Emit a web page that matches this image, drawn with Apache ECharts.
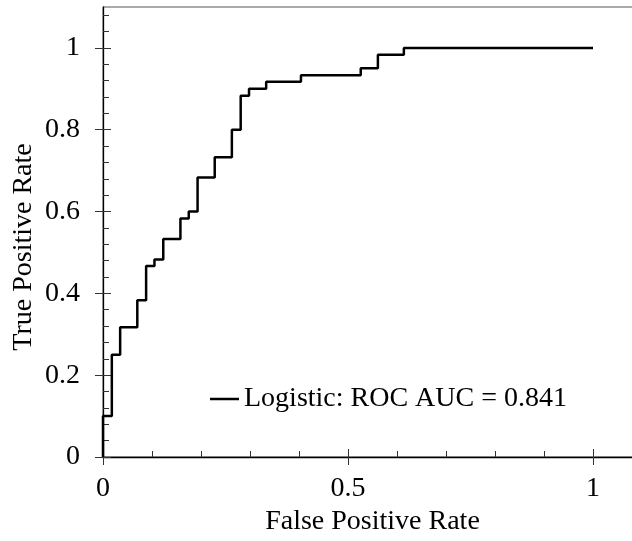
<!DOCTYPE html>
<html>
<head>
<meta charset="utf-8">
<script src="https://cdn.jsdelivr.net/npm/echarts@6/dist/echarts.min.js"></script>
<style>
html, body { margin: 0; padding: 0; background: #fff; }
#chart { width: 632px; height: 541px; }
</style>
</head>
<body>
<div id="chart"></div>
<script>
// ROC curve corners (false positive rate, true positive rate)
var seriesName = 'Logistic: ROC AUC = 0.841';
var fpr = [0, 0, 0.018, 0.018, 0.035, 0.035, 0.070, 0.070, 0.088, 0.088, 0.105, 0.105,
    0.123, 0.123, 0.158, 0.158, 0.175, 0.175, 0.193, 0.193, 0.228, 0.228, 0.263, 0.263,
    0.281, 0.281, 0.298, 0.298, 0.333, 0.333, 0.404, 0.404, 0.526, 0.526, 0.561, 0.561,
    0.614, 0.614, 1];
var tpr = [0, 0.1, 0.1, 0.25, 0.25, 0.317, 0.317, 0.383, 0.383, 0.467, 0.467, 0.483,
    0.483, 0.533, 0.533, 0.583, 0.583, 0.6, 0.6, 0.683, 0.683, 0.733, 0.733, 0.8,
    0.8, 0.883, 0.883, 0.9, 0.9, 0.917, 0.917, 0.933, 0.933, 0.95, 0.95, 0.983,
    0.983, 1, 1];

// tick positions
var xTicks = [0, 0.5, 1];
var xMinorTicks = [0, 0.1, 0.2, 0.3, 0.4, 0.5, 0.6, 0.7, 0.8, 0.9, 1];
var yTicks = [0, 0.2, 0.4, 0.6, 0.8, 1];
var yMinorTicks = [0, 0.04, 0.08, 0.12, 0.16, 0.2, 0.24, 0.28, 0.32, 0.36, 0.4, 0.44, 0.48,
    0.52, 0.56, 0.6, 0.64, 0.68, 0.72, 0.76, 0.8, 0.84, 0.88, 0.92, 0.96, 1, 1.04, 1.08];

var FONT = '"Liberation Serif", "Times New Roman", serif';
var X_MAX = 1.1, Y_MAX = 1.1;

/**
 * 只画刻度的辅助坐标轴
 */
function tickAxis(pos, max, interval, values, len, inside) {
    return {
        type: 'value',
        position: pos,
        min: 0,
        max: max,
        interval: interval,
        axisLine: { show: false, onZero: false },
        axisLabel: { show: false },
        splitLine: { show: false },
        axisTick: {
            show: true,
            inside: inside,
            length: len,
            customValues: values,
            lineStyle: { color: '#333', width: 1 }
        }
    };
}

var chart = echarts.init(document.getElementById('chart'));
chart.setOption({
    animation: false,
    backgroundColor: '#fff',
    grid: {
        left: 103,
        top: 7,
        width: 539,
        height: 450,
        containLabel: false,
        outerBoundsMode: 'none',
        show: true,
        borderColor: '#555',
        borderWidth: 1,
        backgroundColor: 'transparent'
    },
    legend: {
        left: 205,
        top: 380,
        icon: 'rect',
        itemWidth: 29,
        itemHeight: 2.5,
        textStyle: { fontFamily: FONT, fontSize: 28, color: '#000' },
        data: [seriesName]
    },
    graphic: [{
        type: 'text',
        x: 24,
        y: 247,
        rotation: Math.PI / 2,
        style: {
            text: 'True Positive Rate',
            font: '28px ' + FONT,
            fill: '#000',
            align: 'center',
            verticalAlign: 'middle'
        }
    }],
    xAxis: [{
        type: 'value',
        position: 'bottom',
        min: 0,
        max: X_MAX,
        interval: 0.5,
        axisLine: { onZero: false, lineStyle: { color: '#000', width: 1.3 } },
        axisTick: { inside: false, length: 8, customValues: xTicks, lineStyle: { color: '#333', width: 1 } },
        axisLabel: { customValues: xTicks, margin: 18, color: '#000', fontFamily: FONT, fontSize: 28 },
        splitLine: { show: false },
        name: 'False Positive Rate',
        nameLocation: 'middle',
        nameGap: 32,
        nameTextStyle: { fontFamily: FONT, fontSize: 28, color: '#000' }
    },
        tickAxis('bottom', X_MAX, 0.5, xTicks, 8, true),
        tickAxis('bottom', X_MAX, 0.1, xMinorTicks, 6, true)
    ],
    yAxis: [{
        type: 'value',
        position: 'left',
        min: 0,
        max: Y_MAX,
        interval: 0.2,
        axisLine: { onZero: false, lineStyle: { color: '#000', width: 1.3 } },
        axisTick: { inside: false, length: 8, customValues: yTicks, lineStyle: { color: '#333', width: 1 } },
        axisLabel: { customValues: yTicks, margin: 23, color: '#000', fontFamily: FONT, fontSize: 28 },
        splitLine: { show: false }
    },
        tickAxis('left', Y_MAX, 0.2, yTicks, 8, true),
        tickAxis('left', Y_MAX, 0.04, yMinorTicks, 6, true)
    ],
    series: [{
        name: seriesName,
        type: 'line',
        xAxisIndex: 0,
        yAxisIndex: 0,
        data: fpr.map(function (x, i) { return [x, tpr[i]]; }),
        symbol: 'none',
        showSymbol: false,
        clip: true,
        lineStyle: { color: '#000', width: 2.5 },
        itemStyle: { color: '#000' }
    }]
});
</script>
</body>
</html>
